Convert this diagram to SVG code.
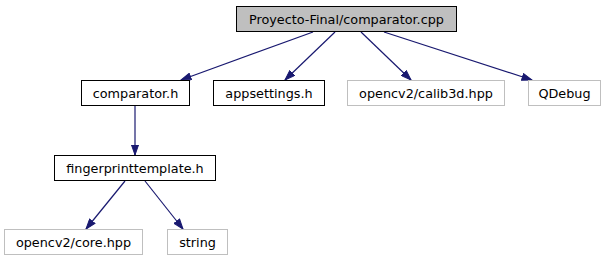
<svg xmlns="http://www.w3.org/2000/svg" width="609" height="261" viewBox="0 0 609 261">
  <style>
    .node rect { fill: #ffffff; stroke: #000000; stroke-width: 1; }
    .node.root rect { fill: #bfbfbf; }
    .node.ext rect { stroke: #bfbfbf; }
    .node text { font-family: "DejaVu Sans", sans-serif; font-size: 12.8px; fill: #000000; text-anchor: middle; }
    .edge { fill: none; stroke: #191970; stroke-width: 1.2; marker-end: url(#arrow); }
  </style>
  <defs>
    <marker id="arrow" markerUnits="userSpaceOnUse" markerWidth="11" markerHeight="8" refX="10.5" refY="4" orient="auto">
      <path d="M0.5,0.5 L10.5,4 L0.5,7.5 z" fill="#191970" stroke="#191970" stroke-width="1"/>
    </marker>
  </defs>

  <rect x="0" y="0" width="609" height="261" fill="#ffffff"/>

  <!-- include edges -->
  <g id="edges">
    <path class="edge" d="M313,32 L181,80"/>
    <path class="edge" d="M335,32 L285,80"/>
    <path class="edge" d="M361,32 L411,80"/>
    <path class="edge" d="M384,32 L532,80"/>
    <path class="edge" d="M135,106 L135,155"/>
    <path class="edge" d="M125,181 L86,229"/>
    <path class="edge" d="M145,181 L183,229"/>
  </g>

  <g id="node-comparator-cpp" class="node root">
    <rect x="236.5" y="6.5" width="220" height="25"/>
    <text x="346.5" y="23.5">Proyecto-Final/comparator.cpp</text>
  </g>
  <g id="node-comparator-h" class="node">
    <rect x="81.5" y="80.5" width="108" height="25"/>
    <text x="135.5" y="97.5">comparator.h</text>
  </g>
  <g id="node-appsettings-h" class="node">
    <rect x="213.5" y="80.5" width="111" height="25"/>
    <text x="269" y="97.5">appsettings.h</text>
  </g>
  <g id="node-calib3d" class="node ext">
    <rect x="347.5" y="80.5" width="157" height="25"/>
    <text x="426" y="97.5">opencv2/calib3d.hpp</text>
  </g>
  <g id="node-qdebug" class="node ext">
    <rect x="528.5" y="80.5" width="72" height="25"/>
    <text x="564.5" y="97.5">QDebug</text>
  </g>
  <g id="node-fingerprinttemplate-h" class="node">
    <rect x="54.5" y="155.5" width="161" height="25"/>
    <text x="135" y="172.5">fingerprinttemplate.h</text>
  </g>
  <g id="node-core" class="node ext">
    <rect x="4.5" y="229.5" width="138" height="25"/>
    <text x="73.5" y="246.5">opencv2/core.hpp</text>
  </g>
  <g id="node-string" class="node ext">
    <rect x="167.5" y="229.5" width="60" height="25"/>
    <text x="197.5" y="246.5">string</text>
  </g>
</svg>
